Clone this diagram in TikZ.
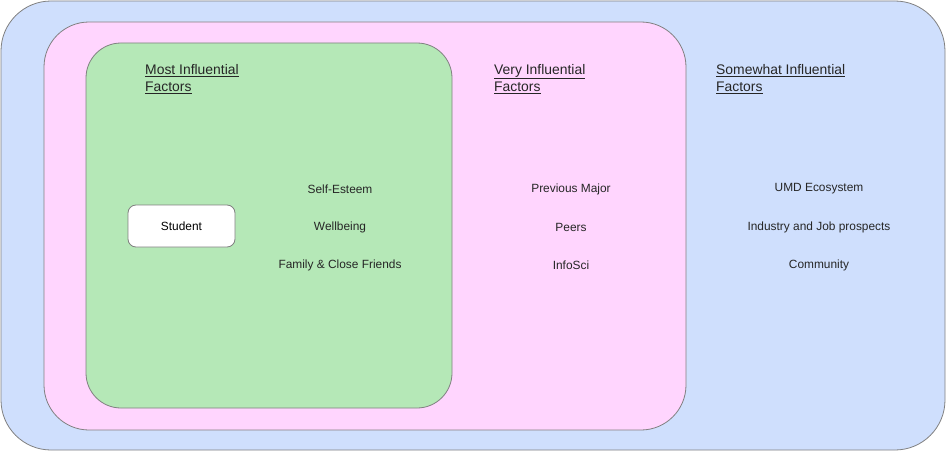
\documentclass[tikz,border=0pt]{standalone}
\usepackage{fontspec}
\setmainfont{Liberation Sans}
\usepackage{xcolor}
\usetikzlibrary{positioning}

\definecolor{ringblue}{HTML}{CFDFFD}
\definecolor{ringpink}{HTML}{FFD5FE}
\definecolor{ringgreen}{HTML}{B5E8B7}
\definecolor{ringline}{HTML}{808080}

\begin{document}
\begin{tikzpicture}[x=1pt, y=-1pt,
        ring/.style={rectangle, draw=ringline, line width=0.8pt, inner sep=0pt},
        heading/.style={anchor=north west, inner sep=0pt, align=left, font=\fontsize{13.9}{17}\selectfont, text=black!85},
        factor/.style={inner sep=1pt, font=\fontsize{11.9}{13}\selectfont, text=black!85},
        person/.style={rectangle, draw=ringline, line width=0.8pt, rounded corners=8pt, fill=white, minimum width=107pt, minimum height=42pt, font=\fontsize{11.9}{13}\selectfont}
    ]

        \useasboundingbox (0,0) rectangle (946,452);

        \node[ring, fill=ringblue, rounded corners=50pt, minimum width=944pt, minimum height=449pt] (outer) at (473, 225.5) {};
        \node[ring, fill=ringpink, rounded corners=45pt, minimum width=642pt, minimum height=408pt] (middle) at (365, 226) {};
        \node[ring, fill=ringgreen, rounded corners=35pt, minimum width=366pt, minimum height=365pt] (inner) at (269, 225.5) {};

        \node[heading] (h_most) at (145, 64) {\underline{Most Influential}\\\underline{Factors}};
        \node[heading] (h_very) at (494, 64) {\underline{Very Influential}\\\underline{Factors}};
        \node[heading] (h_some) at (716, 64) {\underline{Somewhat Influential}\\\underline{Factors}};

        \node[person] (student) at (181.5, 226) {Student};

        \node[factor] (f_esteem)  at (340, 189) {Self-Esteem};
        \node[factor] (f_well)    at (340, 227) {Wellbeing};
        \node[factor] (f_family)  at (340, 265) {Family \& Close Friends};

        \node[factor] (f_major)   at (571, 189) {Previous Major};
        \node[factor] (f_peers)   at (571, 227) {Peers};
        \node[factor] (f_infosci) at (571, 265) {InfoSci};

        \node[factor] (f_umd)     at (819, 189) {UMD Ecosystem};
        \node[factor] (f_jobs)    at (819, 227) {Industry and Job prospects};
        \node[factor] (f_comm)    at (819, 265) {Community};

    \end{tikzpicture}
\end{document}
